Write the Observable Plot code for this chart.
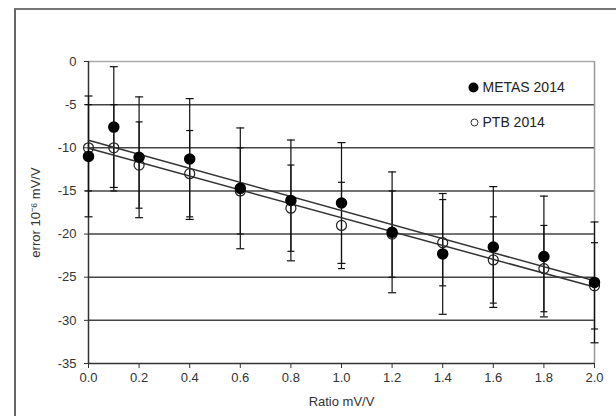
<!DOCTYPE html>
<html>
<head>
<meta charset="utf-8">
<script src="https://cdn.jsdelivr.net/npm/d3@7"></script>
<script src="https://cdn.jsdelivr.net/npm/@observablehq/plot@0.6"></script>
<style>
  html, body { margin: 0; padding: 0; background: #fff; }
  #wrap { position: relative; width: 616px; height: 416px; overflow: hidden; }
  #border { position: absolute; left: 14px; top: 8px; width: 700px; height: 500px;
            border-left: 2px solid #666; border-top: 2px solid #777; pointer-events: none; }
  #chart { position: absolute; left: 0; top: 0; }
</style>
</head>
<body>
<div id="wrap"><div id="chart"></div><div id="border"></div></div>
<script>
// Ratio (mV/V)
const ratios = [0, 0.1, 0.2, 0.4, 0.6, 0.8, 1.0, 1.2, 1.4, 1.6, 1.8, 2.0];
// METAS 2014 error (10^-6 mV/V) and its uncertainty
const metasErr = [-11, -7.6, -11.1, -11.3, -14.7, -16.1, -16.4, -19.8, -22.3, -21.5, -22.6, -25.6];
const metasUnc = [7, 7, 7, 7, 7, 7, 7, 7, 7, 7, 7, 7];
// PTB 2014 error (10^-6 mV/V) and its uncertainty
const ptbErr = [-10, -10, -12, -13, -15, -17, -19, -20, -21, -23, -24, -26];
const ptbUnc = [5, 5, 5, 5, 5, 5, 5, 5, 5, 5, 5, 5];
// axis ticks and labels
const xTicks = [0, 0.2, 0.4, 0.6, 0.8, 1.0, 1.2, 1.4, 1.6, 1.8, 2.0];
const yTicks = [0, -5, -10, -15, -20, -25, -30, -35];
const gridLines = [-5, -10, -15, -20, -25, -30];
const seriesNames = ["METAS 2014", "PTB 2014"];

const metas = ratios.map((x, i) => ({x, y: metasErr[i], lo: metasErr[i] - metasUnc[i], hi: metasErr[i] + metasUnc[i]}));
const ptb = ratios.map((x, i) => ({x, y: ptbErr[i], lo: ptbErr[i] - ptbUnc[i], hi: ptbErr[i] + ptbUnc[i]}));

// horizontal cap symbol for error bars
const cap = {
  draw(ctx, size) {
    const w = Math.sqrt(size / Math.PI);
    ctx.moveTo(-w, 0);
    ctx.lineTo(w, 0);
  }
};

const font = "'Liberation Sans', Arial, sans-serif";

const chart = Plot.plot({
  width: 616,
  height: 416,
  marginLeft: 88,
  marginRight: 22,
  marginTop: 61,
  marginBottom: 53,
  style: {fontFamily: font, fontSize: "14px", color: "#333", background: "transparent"},
  x: {domain: [0, 2]},
  y: {domain: [-35, 0]},
  marks: [
    Plot.ruleY(gridLines, {stroke: "#444", strokeWidth: 1.5}),
    Plot.ruleY([0], {stroke: "#aaa", strokeWidth: 1.5}),
    Plot.ruleX([2], {stroke: "#999", strokeWidth: 1.5}),
    Plot.axisX({ticks: xTicks, tickFormat: d3.format(".1f"), tickSize: 5, tickPadding: 4, stroke: "#333", fill: "#333", fontSize: 13,
                label: "Ratio mV/V", labelAnchor: "center", labelArrow: "none", labelOffset: 42}),
    Plot.axisY({ticks: yTicks, tickFormat: d => String(d).replace("−", "-"), tickSize: 4, tickPadding: 8, stroke: "#333", fill: "#333", fontSize: 13,
                label: "error 10⁻⁶ mV/V", labelAnchor: "center", labelArrow: "none", labelOffset: 58}),
    Plot.ruleX([0], {stroke: "#333", strokeWidth: 1.5}),
    Plot.ruleY([-35], {stroke: "#333", strokeWidth: 1.5}),
    // error bars
    Plot.ruleX(ptb, {x: "x", y1: "lo", y2: "hi", stroke: "#111", strokeWidth: 1.2}),
    Plot.dot(ptb, {x: "x", y: "lo", symbol: cap, r: 3.5, stroke: "#111", strokeWidth: 1.2}),
    Plot.dot(ptb, {x: "x", y: "hi", symbol: cap, r: 3.5, stroke: "#111", strokeWidth: 1.2}),
    Plot.ruleX(metas, {x: "x", y1: "lo", y2: "hi", stroke: "#111", strokeWidth: 1.2}),
    Plot.dot(metas, {x: "x", y: "lo", symbol: cap, r: 4, stroke: "#111", strokeWidth: 1.2}),
    Plot.dot(metas, {x: "x", y: "hi", symbol: cap, r: 4, stroke: "#111", strokeWidth: 1.2}),
    // linear fits
    Plot.linearRegressionY(ptb, {x: "x", y: "y", ci: 0, stroke: "#333", strokeWidth: 1.5}),
    Plot.linearRegressionY(metas, {x: "x", y: "y", ci: 0, stroke: "#333", strokeWidth: 1.5}),
    // points
    Plot.dot(ptb, {x: "x", y: "y", r: 5, stroke: "#222", strokeWidth: 1.2, fill: "none"}),
    Plot.dot(metas, {x: "x", y: "y", r: 5, fill: "#000", stroke: "#000"}),
    // legend
    Plot.dot([seriesNames[0]], {frameAnchor: "top-left", dx: 385, dy: 26, r: 5, fill: "#000"}),
    Plot.text([seriesNames[0]], {text: d => d, frameAnchor: "top-left", dx: 394, dy: 26, textAnchor: "start", lineAnchor: "middle", fill: "#222", fontSize: 14}),
    Plot.dot([seriesNames[1]], {frameAnchor: "top-left", dx: 386, dy: 61, r: 3.5, stroke: "#333", strokeWidth: 1, fill: "none"}),
    Plot.text([seriesNames[1]], {text: d => d, frameAnchor: "top-left", dx: 394, dy: 61, textAnchor: "start", lineAnchor: "middle", fill: "#222", fontSize: 14})
  ]
});
document.getElementById("chart").appendChild(chart);
</script>
</body>
</html>
